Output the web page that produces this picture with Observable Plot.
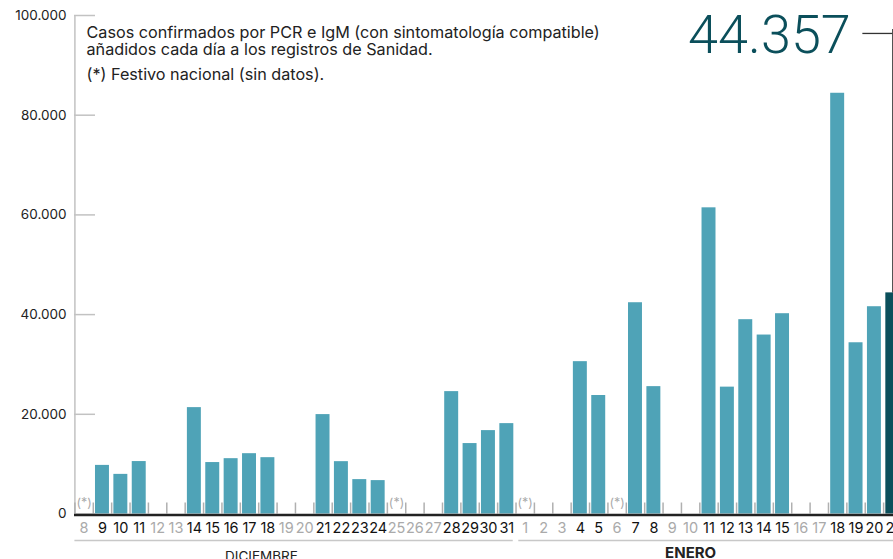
<!DOCTYPE html>
<html><head><meta charset="utf-8">
<script src="https://cdn.jsdelivr.net/npm/d3@7"></script>
<script src="https://cdn.jsdelivr.net/npm/@observablehq/plot@0.6"></script>
<style>
html,body{margin:0;padding:0;background:#fff;overflow:hidden}
#chart svg{display:block;font-family:Inter,"Noto Sans",sans-serif}
</style></head><body><div id="chart"></div>
<script>
// ---- data ----
const dayLabels = ["8","9","10","11","12","13","14","15","16","17","18","19","20","21","22","23","24","25","26","27","28","29","30","31",
                   "1","2","3","4","5","6","7","8","9","10","11","12","13","14","15","16","17","18","19","20","21"];
const dayMonth  = ["dic","dic","dic","dic","dic","dic","dic","dic","dic","dic","dic","dic","dic","dic","dic","dic","dic","dic","dic","dic","dic","dic","dic","dic",
                   "ene","ene","ene","ene","ene","ene","ene","ene","ene","ene","ene","ene","ene","ene","ene","ene","ene","ene","ene","ene","ene"];
const cases = [null,9750,7950,10520,null,null,21340,10320,11100,12100,11300,null,null,19940,10500,6900,6700,null,null,null,24550,14130,16730,18130,
               null,null,null,30560,23770,null,42380,25550,null,null,61420,25450,38980,35900,40180,null,null,84400,34350,41580,44357];
const festivos = ["8 dic","25 dic","1 ene","6 ene"];
const monthNames = ["DICIEMBRE","ENERO"];
const monthKeys = ["dic","ene"];
const yTicks = [0,20000,40000,60000,80000,100000];
const noteLines = ["Casos confirmados por PCR e IgM (con sintomatología compatible)","añadidos cada día a los registros de Sanidad."];
const noteFestivo = "(*) Festivo nacional (sin datos).";

// ---- derived table ----
const days = dayLabels.map((d,i)=>({i, label:d, key:d+" "+dayMonth[i], month:dayMonth[i], v:cases[i]}));
const lastI = days.length-1;
const last = days[lastI];
const months = monthKeys.map((k,j)=>{
  const idx = days.filter(d=>d.month===k).map(d=>d.i);
  return {name:monthNames[j], start:d3.min(idx), end:d3.max(idx)+1};
});
const monthLabelAt = [10.15, 33.5];

const fmt = d3.formatLocale({decimal:",",thousands:".",grouping:[3],currency:["","€"]}).format(",");
const teal = "#4fa3b7", dark = "#0b4f5b";
const leadY = 96400;

const W = 893, H = 559;
const chart = Plot.plot({
  width: W, height: H,
  marginLeft: 74, marginRight: 0, marginTop: 15, marginBottom: 45.5,
  x: {type:"linear", domain:[0, days.length], range:[74.4, 901.5], axis:null},
  y: {domain:[0,100000], axis:null},
  style: {fontFamily:"Inter, 'Noto Sans', sans-serif", background:"#fff", overflow:"hidden"},
  marks: [
    // y axis line and ticks
    Plot.ruleX([0], {y1:0, y2:100000, stroke:"#c2c2c2", strokeWidth:1.5}),
    Plot.tickY(yTicks, {y:d=>d, stroke:"#c2c2c2", strokeWidth:1.5, insetRight: W-95}),
    Plot.text(yTicks, {y:d=>d, frameAnchor:"left", dx:-8, textAnchor:"end", text:d=>fmt(d), fontSize:13.5, fill:"#222"}),
    // day boundary ticks
    Plot.tickX(days, {x:d=>d.i, insetTop:(513.5-15)-11, stroke:"#b0b0b0", strokeWidth:1.5}),
    // bars
    Plot.rectY(days.filter(d=>d.v!=null), {x1:d=>d.i+0.12, x2:d=>d.i+0.88, y1:0, y2:d=>d.v, fill:d=>d.i===lastI?dark:teal}),
    // baseline
    Plot.ruleY([0], {stroke:"#222", strokeWidth:2.5, dy:1}),
    // festivo markers
    Plot.text(days.filter(d=>festivos.includes(d.key)), {x:d=>d.i+0.5, y:0, dy:-11, text:()=>"(*)", fill:"#aaa", fontSize:12.5, lineAnchor:"middle"}),
    // day labels
    Plot.text(days, {x:d=>d.i+0.5, y:0, dy:14.5, lineAnchor:"middle", text:"label", fontSize:14.5, letterSpacing:"-0.4px",
      fill:d=>d.v==null?"#aaa":"#111", fontWeight:d=>d.i===lastI?700:400}),
    // month rules & labels
    Plot.ruleY(months, {y:0, x1:d=>d.start+(d.start===0?0:0.15), x2:d=>d.end-0.15, dy:26.5, stroke:"#c8c8c8", strokeWidth:1.5}),
    Plot.text([months[0]], {x:()=>monthLabelAt[0], y:0, dy:46.5, lineAnchor:"bottom", text:"name", fontSize:13.5, fill:"#222"}),
    Plot.text([months[1]], {x:()=>monthLabelAt[1], y:0, dy:43.5, lineAnchor:"bottom", text:"name", fontSize:15, fontWeight:700, fill:"#222"}),
    // note
    Plot.text([noteLines[0]], {frameAnchor:"top-left", dx:12, dy:10.5, lineAnchor:"top", text:d=>d, fontSize:16.2, fill:"#222"}),
    Plot.text([noteLines[1]], {frameAnchor:"top-left", dx:12, dy:28, lineAnchor:"top", text:d=>d, fontSize:16.2, fill:"#222"}),
    Plot.text([noteFestivo], {frameAnchor:"top-left", dx:12, dy:53, lineAnchor:"top", text:d=>d, fontSize:16.2, fill:"#222"}),
    // highlight last value
    Plot.ruleY([leadY], {x1:lastI-1.13, x2:lastI+0.5, stroke:"#333", strokeWidth:1.3}),
    Plot.ruleX([last], {x:d=>d.i+0.5, y1:d=>d.v, y2:leadY, insetBottom:4, stroke:"#333", strokeWidth:1.3}),
    Plot.text([last], {x:d=>d.i+0.5, y:leadY, dx:-42, dy:2, textAnchor:"end", lineAnchor:"middle", text:d=>fmt(d.v),
      fontSize:54, fontWeight:300, fontFamily:"Roboto", letterSpacing:"-2.6px", fill:dark})
  ]
});
document.getElementById("chart").appendChild(chart);
</script></body></html>
